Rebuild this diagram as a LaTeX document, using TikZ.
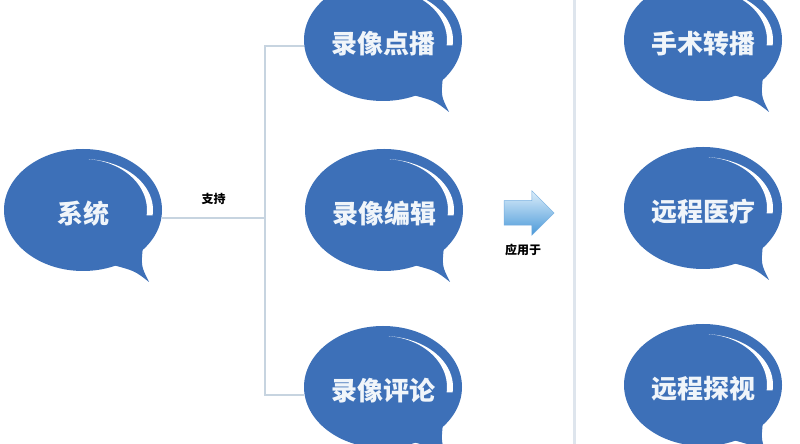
\documentclass[tikz,border=0pt]{standalone}
\usepackage{fontspec}
\newfontfamily\cjk{Noto Sans CJK SC}
\usetikzlibrary{shapes.geometric,shapes.arrows,positioning,backgrounds}

\begin{document}
\begin{tikzpicture}[x=1pt,y=1pt,
  bubble/.style={ellipse,fill=bubbleColor,text=textColor,inner sep=0pt,minimum width=158pt,minimum height=122pt,text height=32pt,text depth=4pt,font=\cjk\bfseries\fontsize{26}{30}\selectfont},
  branch/.style={draw=lineColor,line width=1.5pt},
  divider/.style={draw=dividerColor,line width=3pt},
  note/.style={text=black,inner sep=0pt,font=\cjk\bfseries\fontsize{12}{14}\selectfont},
  applyarrow/.style={single arrow,single arrow head extend=10pt,inner sep=12pt,minimum height=50pt,top color=arrowLight,bottom color=arrowDark,draw=arrowEdge,line width=0.5pt}]
\definecolor[named]{bubbleColor}{rgb}{0.24,0.44,0.72}
\definecolor[named]{textColor}{rgb}{0.94,0.96,0.98}
\definecolor[named]{lineColor}{rgb}{0.78,0.83,0.88}
\definecolor[named]{dividerColor}{rgb}{0.87,0.90,0.93}
\definecolor[named]{arrowLight}{rgb}{0.86,0.93,0.98}
\definecolor[named]{arrowDark}{rgb}{0.29,0.60,0.85}
\definecolor[named]{arrowEdge}{rgb}{0.45,0.68,0.88}
\path[use as bounding box] (0,0) rectangle (800,444);

\node[bubble] (sys) at ( 83,234) {系统};

\node[bubble] (vod) at (383,404) {录像点播};

\node[bubble] (edit) at (384,234) {录像编辑};

\node[bubble] (review) at (383, 57) {录像评论};

\node[bubble] (surgery) at (703,404) {手术转播};

\node[bubble] (remote) at (703,236) {远程医疗};

\node[bubble] (visit) at (703, 59) {远程探视};

\foreach \b in {sys,vod,edit,review,surgery,remote,visit}{
  \fill[bubbleColor,shift={(\b.center)}] (30,-55) .. controls (52,-61) .. (66,-72) .. controls (58,-56) .. (60,-36) -- cycle;
  \fill[white,shift={(\b.center)}] (85:70 and 51) arc[start angle=85,end angle=-6,x radius=70,y radius=51] --
	(-6:64 and 51) arc[start angle=-6,end angle=85,x radius=64,y radius=51] -- cycle;
}

\coordinate (jt) at (265,398);
\coordinate (jm) at (265,226);
\coordinate (jb) at (265, 49);

\begin{scope}[on background layer]
\fill[white] (0,0) rectangle (800,444);

\draw[branch] (sys.east |- jm) -- node[note,midway,above=13pt] (support) {支持} (jm);

\draw[branch] (vod.west |- jt) -- (jt) -- (jb) -- (review.west |- jb);

\draw[divider] (574,0) -- (574,444);
\end{scope}

\node[applyarrow] (apply) at (523,231) {};

\node[note,below=18pt of apply] (applylabel) {应用于};
\end{tikzpicture}
\end{document}
